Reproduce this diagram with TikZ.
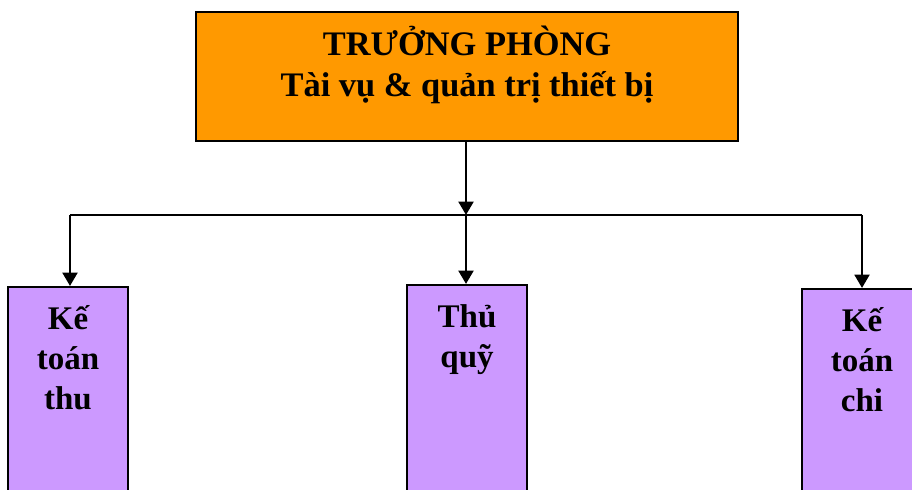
\documentclass[tikz,border=0pt]{standalone}
\usepackage{fontspec}
\setmainfont{Liberation Serif}
\usetikzlibrary{arrows.meta,positioning}
\definecolor{headorange}{HTML}{FF9900}
\definecolor{staffviolet}{HTML}{CC99FF}
\tikzset{
  headbox/.style={draw, line width=1.6pt, fill=headorange, minimum width=406.5pt,
                  minimum height=96.75pt, inner sep=0pt},
  staffbox/.style={draw, line width=1.4pt, fill=staffviolet, anchor=north,
                   minimum width=90pt, minimum height=165pt, inner sep=0pt},
  headtxt/.style={font=\bfseries\fontsize{25.8}{30.75}\selectfont, align=center,
                  anchor=base, inner sep=0pt},
  stafftxt/.style={font=\bfseries\fontsize{24.75}{30}\selectfont, align=center,
                   anchor=base, inner sep=0pt},
  arr/.style={-{Triangle[length=10pt,width=11pt]}, line width=2.2pt},
  bus/.style={line width=1.5pt},
}

\begin{document}
\begin{tikzpicture}[x=0.75pt, y=-0.75pt]
  \useasboundingbox (0,0) rectangle (912,489);
  \clip (0,0) rectangle (912,489);
  % head of the office (base anchor sits on the last line)
  \node[headbox] (truong) at (467,76.5) {};
  \node[headtxt] (truongtxt) at (467,96) {TRƯỞNG PHÒNG\\Tài vụ \& quản trị thiết bị};
  % staff under the head
  \node[staffbox] (thu) at (68,286) {};
  \node[staffbox] (quy) at (467,284) {};
  \node[staffbox] (chi) at (862,288) {};
  \node[stafftxt] (thutxt) at (68,409) {Kế\\toán\\thu};
  \node[stafftxt] (quytxt) at (467,367) {Thủ\\quỹ};
  \node[stafftxt] (chitxt) at (862,411) {Kế\\toán\\chi};
  % connectors
  \coordinate (jm) at (466,215);
  \coordinate (jl) at (70,215);
  \coordinate (jr) at (862,215);
  \draw[arr] (truong.south -| jm) -- (jm);
  \draw[bus] (jl) -- (jr);
  \draw[arr] (jl) -- (jl |- thu.north);
  \draw[arr] (jm) -- (jm |- quy.north);
  \draw[arr] (jr) -- (jr |- chi.north);
\end{tikzpicture}
\end{document}
